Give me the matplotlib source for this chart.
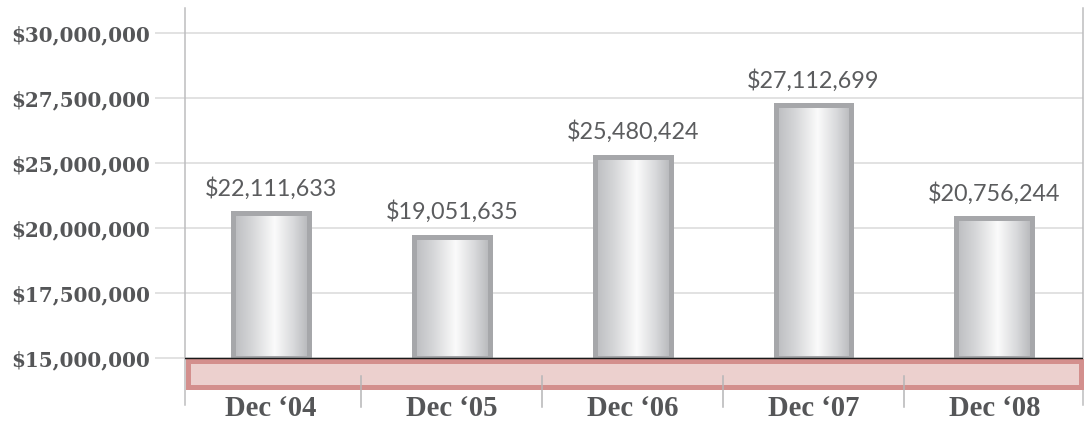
import numpy as np
import matplotlib
matplotlib.use('Agg')
import matplotlib.pyplot as plt
from matplotlib.colors import LinearSegmentedColormap
from matplotlib.patches import Rectangle
import matplotlib.transforms as mtransforms

# ---- data ----
categories = ['Dec \u201804', 'Dec \u201805', 'Dec \u201806', 'Dec \u201807', 'Dec \u201808']
bar_values = [21.70e6, 20.61e6, 24.31e6, 26.68e6, 21.47e6]
value_labels = ['$22,111,633', '$19,051,635', '$25,480,424', '$27,112,699', '$20,756,244']
y_tick_labels = ['$15,000,000', '$17,500,000', '$20,000,000',
                 '$25,000,000', '$27,500,000', '$30,000,000']

BASE = 15e6
YMIN, YMAX = 12.85e6, 31.17e6
XMIN, XMAX = -0.475, 4.49

W, H = 1091, 422
fig = plt.figure(figsize=(W / 100, H / 100), dpi=100)
ax_px = (185, 17, 898, 397)
ax = fig.add_axes([ax_px[0] / W, ax_px[1] / H, ax_px[2] / W, ax_px[3] / H])
ax.set_xlim(XMIN, XMAX)
ax.set_ylim(YMIN, YMAX)
px_per_y = ax_px[3] / (YMAX - YMIN)

label_col = '#555658'

# gridlines and axes
ax.set_axisbelow(True)
ax.set_yticks(np.linspace(BASE, 30e6, 6))
ax.set_yticklabels(y_tick_labels, fontfamily='DejaVu Serif', fontweight='bold',
                   fontsize=14.4, color=label_col)
ax.yaxis.grid(True, color='#dadada', lw=1.1)
ax.tick_params(axis='y', length=21.6, width=1.1, color='#dadada', pad=3.4)
ax.yaxis.get_major_ticks()[0].tick1line.set_color('#1a1a1a')
ax.set_xticks(range(len(categories)))
ax.set_xticklabels(categories, fontfamily='Liberation Serif', fontweight='bold',
                   fontsize=20.6, color=label_col)
ax.tick_params(axis='x', length=0, pad=7.9)
for lbl in ax.get_xticklabels():
    lbl.set_verticalalignment('baseline')

for s in ('top', 'bottom'):
    ax.spines[s].set_visible(False)
for s in ('left', 'right'):
    ax.spines[s].set_color('#bdbdbf')
    ax.spines[s].set_linewidth(1.1)

# bars with gradient fill
cmap = LinearSegmentedColormap.from_list('metal', [
    (0.0, '#bbbcbf'), (0.25, '#d5d6d8'), (0.55, '#fbfbfb'),
    (0.8, '#d8d9db'), (1.0, '#b6b7ba')])
grad = np.linspace(0, 1, 256).reshape(1, -1)
xs = np.arange(len(categories))
heights = [v - BASE for v in bar_values]
bars = ax.bar(xs, heights, bottom=BASE, width=0.42, facecolor='none',
              edgecolor='#a6a7aa', linewidth=3.6, zorder=3)
for patch, x, v in zip(bars.patches, xs, bar_values):
    im = ax.imshow(grad, extent=[x - 0.21, x + 0.21, BASE, v], aspect='auto',
                   cmap=cmap, zorder=2.5, interpolation='bicubic')
    im.set_clip_path(patch)
ax.set_xlim(XMIN, XMAX)
ax.set_ylim(YMIN, YMAX)

# value labels
for x, v, t in zip(xs, bar_values, value_labels):
    ax.annotate(t, (x, v), xytext=(0, 12.6), textcoords='offset points',
                ha='center', va='baseline', fontsize=16.8, family='Lato',
                color='#5b5c5e', zorder=7)

# pink base band
trans = mtransforms.blended_transform_factory(ax.transAxes, ax.transData)
inset_x = 2.5 / ax_px[2]
band_top = BASE - 2.5 / px_per_y
band_bot = BASE - 28.7 / px_per_y
ax.add_patch(Rectangle((inset_x, band_bot), 1 - 2 * inset_x, band_top - band_bot,
                       transform=trans, facecolor='#ecd0ce', edgecolor='#d38f8d',
                       lw=3.6, zorder=4, clip_on=False))
ax.axhline(BASE, color='#1a1a1a', lw=1.0, zorder=6)

# category separators
sep_top = BASE - 17.7 / px_per_y
sep_bot = YMIN - 1.5 / px_per_y
for k in range(len(categories) - 1):
    ax.plot([k + 0.5, k + 0.5], [sep_top, sep_bot], color='#b5b5b7', lw=1.1,
            clip_on=False, zorder=5)

fig.savefig('out.png', dpi=100)
